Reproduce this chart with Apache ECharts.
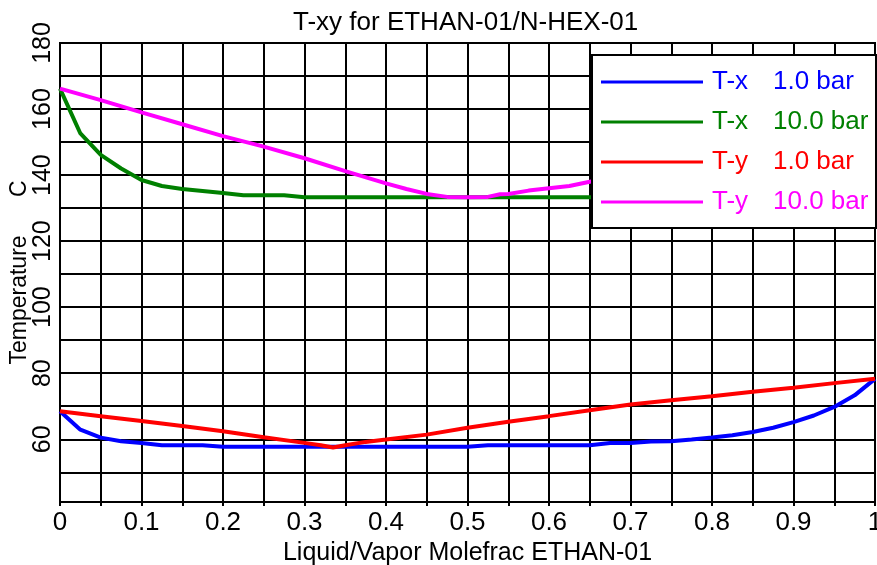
<!DOCTYPE html>
<html><head><meta charset="utf-8">
<script src="https://cdn.jsdelivr.net/npm/echarts@6/dist/echarts.min.js"></script>
<style>html,body{margin:0;padding:0;background:#fff}#c{width:877px;height:565px}</style>
</head><body><div id="c"></div>
<script>
const xTx1 = [0,0.025,0.05,0.075,0.1,0.125,0.15,0.175,0.2,0.25,0.3,0.35,0.4,0.45,0.5,0.525,0.55,0.6,0.65,0.675,0.7,0.725,0.75,0.775,0.8,0.825,0.85,0.875,0.9,0.925,0.95,0.975,1.0];
const tTx1 = [68.5,62.9,60.5,59.4,58.9,58.2,58.2,58.2,57.7,57.7,57.7,57.7,57.7,57.7,57.7,58.2,58.2,58.2,58.2,58.9,58.9,59.3,59.4,59.9,60.5,61.2,62.2,63.5,65.2,67.2,69.8,73.3,78.3];
const xTy1 = [0,0.05,0.1,0.15,0.2,0.25,0.3,0.32,0.335,0.35,0.375,0.4,0.45,0.5,0.55,0.6,0.65,0.7,0.75,0.8,0.85,0.9,0.95,1.0];
const tTy1 = [68.5,67.0,65.5,64.0,62.4,60.6,58.9,58.2,57.5,58.2,59.2,59.9,61.4,63.5,65.3,67.0,68.8,70.5,71.8,73.0,74.4,75.6,77.0,78.3];
const xTx10 = [0,0.025,0.05,0.075,0.1,0.125,0.15,0.175,0.2,0.225,0.25,0.275,0.3,0.4,0.5,0.6,0.7];
const tTx10 = [166.2,152.6,146.1,142.0,138.5,136.7,135.8,135.2,134.6,133.9,133.9,133.9,133.3,133.3,133.3,133.3,133.3];
const xTy10 = [0,0.05,0.1,0.15,0.2,0.25,0.3,0.35,0.4,0.425,0.45,0.475,0.5,0.525,0.54,0.55,0.575,0.6,0.625,0.65,0.675];
const tTy10 = [166.2,162.7,159.0,155.4,151.8,148.6,145.1,141.2,137.5,135.8,134.3,133.4,133.3,133.4,134.2,134.3,135.3,136.0,136.7,138.0,139.0];
const yLabelValues = [60,80,100,120,140,160,180];
const yGridValues = [50,60,70,80,90,100,110,120,130,140,150,160,170,180];
const seriesNames = ['T-x|1.0 bar','T-x|10.0 bar','T-y|1.0 bar','T-y|10.0 bar'];
const seriesColors = ['#0000ff','#008000','#ff0000','#ff00ff'];

const FONT = "'Liberation Sans', Arial, sans-serif";
const pairs = (xs, ys) => xs.map((x, i) => [x, ys[i]]);
const dataSets = [pairs(xTx1,tTx1), pairs(xTx10,tTx10), pairs(xTy1,tTy1), pairs(xTy10,tTy10)];

const chart = echarts.init(document.getElementById('c'), null, {renderer:'canvas'});
chart.setOption({
  backgroundColor: '#fff',
  animation: false,
  textStyle: {fontFamily: FONT},
  title: {
    text: 'T-xy for ETHAN-01/N-HEX-01',
    left: 288, top: 5,
    textStyle: {fontFamily: FONT, fontSize: 26, fontWeight: 'normal', color: '#000'}
  },
  grid: {left: 60, right: 2, top: 43, bottom: 63, show: true, borderColor: '#000', borderWidth: 2, containLabel: false, outerBoundsMode: 'none'},
  legend: {
    orient: 'vertical', left: 592, top: 55,
    padding: [14, 4, 13, 9],
    backgroundColor: '#fff', borderColor: '#000', borderWidth: 2,
    itemWidth: 102, itemHeight: 3, itemGap: 14, icon: 'rect',
    selectedMode: false,
    data: seriesNames.map((n, i) => ({name: n, textStyle: {color: seriesColors[i]}})),
    formatter: name => { const p = name.split('|'); return '{a|' + p[0] + '}{b|' + p[1] + '}'; },
    textStyle: {
      fontFamily: FONT, fontSize: 26, lineHeight: 26, padding: [0,0,0,4],
      rich: {a: {width: 61, fontSize: 26, fontFamily: FONT}, b: {width: 99, fontSize: 26, fontFamily: FONT}}
    }
  },
  xAxis: {
    type: 'value', min: 0, max: 1, interval: 0.05,
    name: 'Liquid/Vapor Molefrac ETHAN-01', nameLocation: 'middle', nameGap: 37,
    nameTextStyle: {fontFamily: FONT, fontSize: 25, color: '#000'},
    axisLine: {show: true, lineStyle: {color: '#000', width: 2}},
    axisTick: {show: true, length: 4, lineStyle: {color: '#000', width: 2}},
    splitLine: {show: true, lineStyle: {color: '#000', width: 2}},
    axisLabel: {
      fontFamily: FONT, fontSize: 26, color: '#000', margin: 8,
      formatter: v => { const k = Math.round(v * 20); return k % 2 === 0 ? String(+(k / 20).toFixed(1)) : ''; }
    }
  },
  yAxis: {
    type: 'value', min: 41, max: 180,
    name: 'Temperature      C', nameLocation: 'middle', nameGap: 29, nameMoveOverlap: false,
    nameTextStyle: {fontFamily: FONT, fontSize: 23, color: '#000'},
    axisLine: {show: true, lineStyle: {color: '#000', width: 2}},
    axisTick: {show: true, inside: true, length: 8, customValues: yGridValues, lineStyle: {color: '#000', width: 2}},
    splitLine: {show: true, lineStyle: {color: '#000', width: 2}},
    axisLabel: {
      customValues: yLabelValues, rotate: 90, align: 'center', verticalAlign: 'bottom',
      fontFamily: FONT, fontSize: 25, color: '#000', margin: 4
    }
  },
  series: seriesNames.map((n, i) => ({
    name: n, type: 'line', data: dataSets[i], showSymbol: false, symbol: 'none',
    lineStyle: {color: seriesColors[i], width: 4}, itemStyle: {color: seriesColors[i]},
    z: 3
  }))
});
</script></body></html>
